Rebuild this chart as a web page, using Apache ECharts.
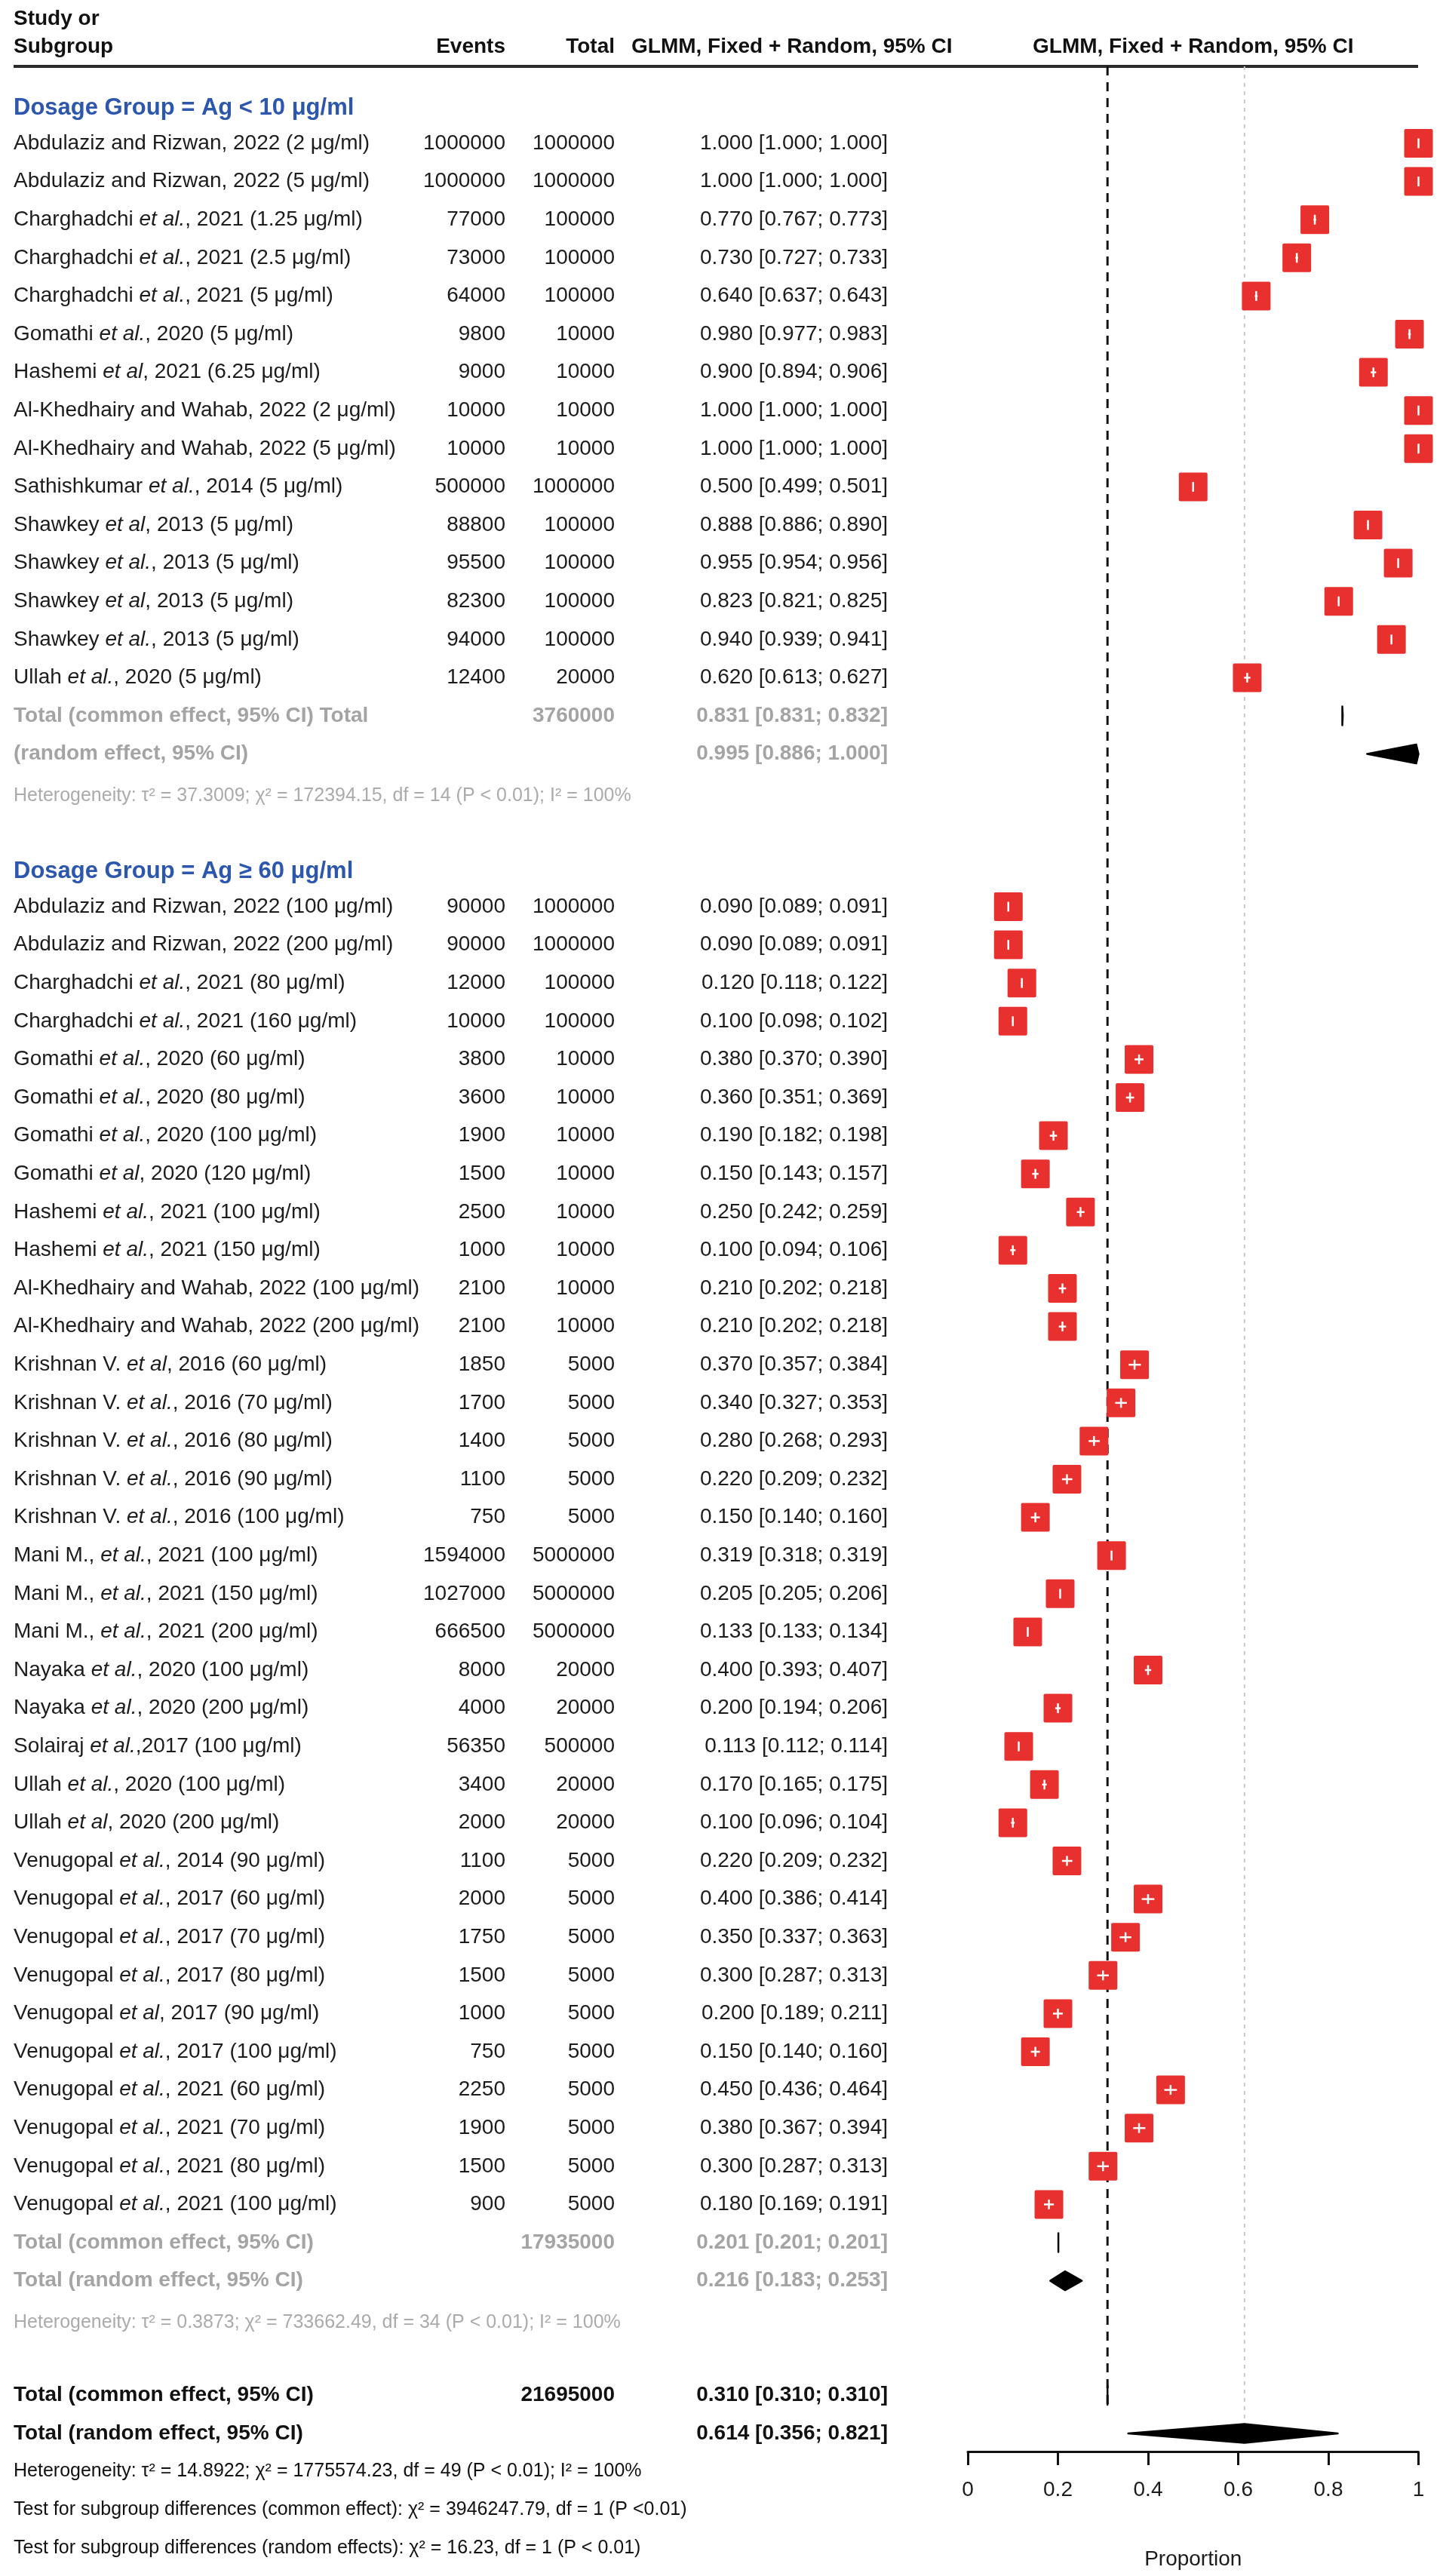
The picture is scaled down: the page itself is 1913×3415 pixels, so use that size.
<!DOCTYPE html>
<html><head><meta charset="utf-8">
<script src="https://cdn.jsdelivr.net/npm/echarts@6/dist/echarts.min.js"></script>
<style>html,body{margin:0;padding:0;background:#fff}#c{width:1913px;height:3415px}</style>
</head><body><div id="c"></div>
<script>
// ================= DATA =================
const g1Label = 'Dosage Group = Ag < 10 μg/ml';
const g1Studies = [
  'Abdulaziz and Rizwan, 2022 (2 μg/ml)',
  'Abdulaziz and Rizwan, 2022 (5 μg/ml)',
  'Charghadchi et al., 2021 (1.25 μg/ml)',
  'Charghadchi et al., 2021 (2.5 μg/ml)',
  'Charghadchi et al., 2021 (5 μg/ml)',
  'Gomathi et al., 2020 (5 μg/ml)',
  'Hashemi et al, 2021 (6.25 μg/ml)',
  'Al-Khedhairy and Wahab, 2022 (2 μg/ml)',
  'Al-Khedhairy and Wahab, 2022 (5 μg/ml)',
  'Sathishkumar et al., 2014 (5 μg/ml)',
  'Shawkey et al, 2013 (5 μg/ml)',
  'Shawkey et al., 2013 (5 μg/ml)',
  'Shawkey et al, 2013 (5 μg/ml)',
  'Shawkey et al., 2013 (5 μg/ml)',
  'Ullah et al., 2020 (5 μg/ml)'
];
const g1Events = [1000000, 1000000, 77000, 73000, 64000, 9800, 9000, 10000, 10000, 500000, 88800, 95500, 82300, 94000, 12400];
const g1Totals = [1000000, 1000000, 100000, 100000, 100000, 10000, 10000, 10000, 10000, 1000000, 100000, 100000, 100000, 100000, 20000];
const g1Est = [1.000, 1.000, 0.770, 0.730, 0.640, 0.980, 0.900, 1.000, 1.000, 0.500, 0.888, 0.955, 0.823, 0.940, 0.620];
const g1Lo  = [1.000, 1.000, 0.767, 0.727, 0.637, 0.977, 0.894, 1.000, 1.000, 0.499, 0.886, 0.954, 0.821, 0.939, 0.613];
const g1Hi  = [1.000, 1.000, 0.773, 0.733, 0.643, 0.983, 0.906, 1.000, 1.000, 0.501, 0.890, 0.956, 0.825, 0.941, 0.627];
const g1CommonLabel = 'Total (common effect, 95% CI) Total';
const g1RandomLabel = '(random effect, 95% CI)';
const g1CommonTotal = 3760000;
const g1Common = [0.831, 0.831, 0.832];
const g1Random = [0.995, 0.886, 1.000];
const g1Het = 'Heterogeneity: τ² = 37.3009; χ² = 172394.15, df = 14 (P < 0.01); I² = 100%';

const g2Label = 'Dosage Group = Ag ≥ 60 μg/ml';
const g2Studies = [
  'Abdulaziz and Rizwan, 2022 (100 μg/ml)',
  'Abdulaziz and Rizwan, 2022 (200 μg/ml)',
  'Charghadchi et al., 2021 (80 μg/ml)',
  'Charghadchi et al., 2021 (160 μg/ml)',
  'Gomathi et al., 2020 (60 μg/ml)',
  'Gomathi et al., 2020 (80 μg/ml)',
  'Gomathi et al., 2020 (100 μg/ml)',
  'Gomathi et al, 2020 (120 μg/ml)',
  'Hashemi et al., 2021 (100 μg/ml)',
  'Hashemi et al., 2021 (150 μg/ml)',
  'Al-Khedhairy and Wahab, 2022 (100 μg/ml)',
  'Al-Khedhairy and Wahab, 2022 (200 μg/ml)',
  'Krishnan V. et al, 2016 (60 μg/ml)',
  'Krishnan V. et al., 2016 (70 μg/ml)',
  'Krishnan V. et al., 2016 (80 μg/ml)',
  'Krishnan V. et al., 2016 (90 μg/ml)',
  'Krishnan V. et al., 2016 (100 μg/ml)',
  'Mani M., et al., 2021 (100 μg/ml)',
  'Mani M., et al., 2021 (150 μg/ml)',
  'Mani M., et al., 2021 (200 μg/ml)',
  'Nayaka et al., 2020 (100 μg/ml)',
  'Nayaka et al., 2020 (200 μg/ml)',
  'Solairaj et al.,2017 (100 μg/ml)',
  'Ullah et al., 2020 (100 μg/ml)',
  'Ullah et al, 2020 (200 μg/ml)',
  'Venugopal et al., 2014 (90 μg/ml)',
  'Venugopal et al., 2017 (60 μg/ml)',
  'Venugopal et al., 2017 (70 μg/ml)',
  'Venugopal et al., 2017 (80 μg/ml)',
  'Venugopal et al, 2017 (90 μg/ml)',
  'Venugopal et al., 2017 (100 μg/ml)',
  'Venugopal et al., 2021 (60 μg/ml)',
  'Venugopal et al., 2021 (70 μg/ml)',
  'Venugopal et al., 2021 (80 μg/ml)',
  'Venugopal et al., 2021 (100 μg/ml)'
];
const g2Events = [90000, 90000, 12000, 10000, 3800, 3600, 1900, 1500, 2500, 1000, 2100, 2100, 1850, 1700, 1400, 1100, 750, 1594000, 1027000, 666500, 8000, 4000, 56350, 3400, 2000, 1100, 2000, 1750, 1500, 1000, 750, 2250, 1900, 1500, 900];
const g2Totals = [1000000, 1000000, 100000, 100000, 10000, 10000, 10000, 10000, 10000, 10000, 10000, 10000, 5000, 5000, 5000, 5000, 5000, 5000000, 5000000, 5000000, 20000, 20000, 500000, 20000, 20000, 5000, 5000, 5000, 5000, 5000, 5000, 5000, 5000, 5000, 5000];
const g2Est = [0.090, 0.090, 0.120, 0.100, 0.380, 0.360, 0.190, 0.150, 0.250, 0.100, 0.210, 0.210, 0.370, 0.340, 0.280, 0.220, 0.150, 0.319, 0.205, 0.133, 0.400, 0.200, 0.113, 0.170, 0.100, 0.220, 0.400, 0.350, 0.300, 0.200, 0.150, 0.450, 0.380, 0.300, 0.180];
const g2Lo  = [0.089, 0.089, 0.118, 0.098, 0.370, 0.351, 0.182, 0.143, 0.242, 0.094, 0.202, 0.202, 0.357, 0.327, 0.268, 0.209, 0.140, 0.318, 0.205, 0.133, 0.393, 0.194, 0.112, 0.165, 0.096, 0.209, 0.386, 0.337, 0.287, 0.189, 0.140, 0.436, 0.367, 0.287, 0.169];
const g2Hi  = [0.091, 0.091, 0.122, 0.102, 0.390, 0.369, 0.198, 0.157, 0.259, 0.106, 0.218, 0.218, 0.384, 0.353, 0.293, 0.232, 0.160, 0.319, 0.206, 0.134, 0.407, 0.206, 0.114, 0.175, 0.104, 0.232, 0.414, 0.363, 0.313, 0.211, 0.160, 0.464, 0.394, 0.313, 0.191];
const g2CommonLabel = 'Total (common effect, 95% CI)';
const g2RandomLabel = 'Total (random effect, 95% CI)';
const g2CommonTotal = 17935000;
const g2Common = [0.201, 0.201, 0.201];
const g2Random = [0.216, 0.183, 0.253];
const g2Het = 'Heterogeneity: τ² = 0.3873; χ² = 733662.49, df = 34 (P < 0.01); I² = 100%';

const allCommonLabel = 'Total (common effect, 95% CI)';
const allRandomLabel = 'Total (random effect, 95% CI)';
const allCommonTotal = 21695000;
const allCommon = [0.310, 0.310, 0.310];
const allRandom = [0.614, 0.356, 0.821];
const footerLines = [
  'Heterogeneity: τ² = 14.8922; χ² = 1775574.23, df = 49 (P < 0.01); I² = 100%',
  'Test for subgroup differences (common effect): χ² = 3946247.79, df = 1 (P <0.01)',
  'Test for subgroup differences (random effects): χ² = 16.23, df = 1 (P < 0.01)'
];
const headerLeft = ['Study or', 'Subgroup'];
const headerCols = ['Events', 'Total', 'GLMM, Fixed + Random, 95% CI'];
const plotHeader = 'GLMM, Fixed + Random, 95% CI';
const axisName = 'Proportion';
const tickLabels = ['0', '0.2', '0.4', '0.6', '0.8', '1'];

// ================= LAYOUT =================
const W = 1913, H = 3415;
const ROW_Y0 = 139.4, PITCH = 50.6;
const RULE_Y = 88, AXIS_Y = 3250;
const PLOT_L = 1283, PLOT_R = 1880.5;
const COL = { study: 18, events: 670, total: 815, ciHdr: 837, ci: 1177, plotHdr: (PLOT_L + PLOT_R) / 2, ruleEnd: 1880 };
const FONT = '"Liberation Sans", Arial, Helvetica, sans-serif';
const RED = '#e8302f';
const SQ = 38;       // square size px
const DIA_H = 12.5;  // diamond half height px

const STYLES = {
  hdr:      { fontSize: 28, fontWeight: 'bold', fill: '#111' },
  row:      { fontSize: 28, fontWeight: 'normal', fill: '#1c1c1c' },
  grp:      { fontSize: 31, fontWeight: 'bold', fill: '#2d56ad' },
  sumGrey:  { fontSize: 28, fontWeight: 'bold', fill: '#a4a4a4' },
  hetGrey:  { fontSize: 25, fontWeight: 'normal', fill: '#ababab' },
  sumBlack: { fontSize: 28, fontWeight: 'bold', fill: '#111' },
  het:      { fontSize: 25, fontWeight: 'normal', fill: '#111' }
};

const fmt3 = v => v.toFixed(3);
const ciText = a => fmt3(a[0]) + ' [' + fmt3(a[1]) + '; ' + fmt3(a[2]) + ']';
const richName = s => s.replace(/et al\.?/g, m => '{i|' + m + '}');

const TEXTS = [];
const MARKS = [];
function addText(x, row, text, style, align) { TEXTS.push({ x, row, text, style, align: align || 'left' }); }

// header
addText(COL.study, (25 - ROW_Y0) / PITCH, headerLeft[0], 'hdr');
const HDR_ROW = (62 - ROW_Y0) / PITCH;
const RULE_ROW = (RULE_Y - ROW_Y0) / PITCH;
addText(COL.study, HDR_ROW, headerLeft[1], 'hdr');
addText(COL.events, HDR_ROW, headerCols[0], 'hdr', 'right');
addText(COL.total, HDR_ROW, headerCols[1], 'hdr', 'right');
addText(COL.ciHdr, HDR_ROW, headerCols[2], 'hdr');
addText(COL.plotHdr, HDR_ROW, plotHeader, 'hdr', 'center');

function addGroup(start, label, studies, ev, tot, est, lo, hi, cLabel, rLabel, cTot, com, ran, het) {
  addText(COL.study, start + 0.08, label, 'grp');
  studies.forEach((s, i) => {
    const r = start + 1 + i;
    addText(COL.study, r, richName(s), 'row');
    addText(COL.events, r, String(ev[i]), 'row', 'right');
    addText(COL.total, r, String(tot[i]), 'row', 'right');
    addText(COL.ci, r, ciText([est[i], lo[i], hi[i]]), 'row', 'right');
    MARKS.push({ kind: 'square', row: r, est: est[i], lo: lo[i], hi: hi[i] });
  });
  const rc = start + studies.length + 1, rr = rc + 1, rh = rc + 2;
  addText(COL.study, rc, cLabel, 'sumGrey');
  addText(COL.total, rc, String(cTot), 'sumGrey', 'right');
  addText(COL.ci, rc, ciText(com), 'sumGrey', 'right');
  addText(COL.study, rr, rLabel, 'sumGrey');
  addText(COL.ci, rr, ciText(ran), 'sumGrey', 'right');
  addText(COL.study, rh + 0.1, het, 'hetGrey');
  MARKS.push({ kind: 'diamond', row: rc, est: com[0], lo: com[1], hi: com[2] });
  MARKS.push({ kind: 'diamond', row: rr, est: ran[0], lo: ran[1], hi: ran[2] });
  return rh + 2;
}
let next = addGroup(0, g1Label, g1Studies, g1Events, g1Totals, g1Est, g1Lo, g1Hi, g1CommonLabel, g1RandomLabel, g1CommonTotal, g1Common, g1Random, g1Het);
next = addGroup(next, g2Label, g2Studies, g2Events, g2Totals, g2Est, g2Lo, g2Hi, g2CommonLabel, g2RandomLabel, g2CommonTotal, g2Common, g2Random, g2Het);
const rowAllC = next, rowAllR = next + 1;
addText(COL.study, rowAllC, allCommonLabel, 'sumBlack');
addText(COL.total, rowAllC, String(allCommonTotal), 'sumBlack', 'right');
addText(COL.ci, rowAllC, ciText(allCommon), 'sumBlack', 'right');
addText(COL.study, rowAllR, allRandomLabel, 'sumBlack');
addText(COL.ci, rowAllR, ciText(allRandom), 'sumBlack', 'right');
footerLines.forEach((t, i) => addText(COL.study, rowAllR + 1 + i, t, 'het'));
MARKS.push({ kind: 'diamond', row: rowAllC, est: allCommon[0], lo: allCommon[1], hi: allCommon[2] });
MARKS.push({ kind: 'diamond', row: rowAllR, est: allRandom[0], lo: allRandom[1], hi: allRandom[2] });

const VLINES = [
  { x: allCommon[0], from: RULE_ROW, to: rowAllC + 0.3, color: '#111', width: 3, dash: [12, 9] },
  { x: allRandom[0], from: RULE_ROW, to: rowAllR - DIA_H / PITCH, color: '#c9c9c9', width: 2, dash: [5, 6] }
];

// ================= CHART =================
const chart = echarts.init(document.getElementById('c'), null, { renderer: 'canvas', width: W, height: H });

function renderText(params, api) {
  const t = TEXTS[params.dataIndex];
  const p = api.coord([t.x, t.row]);
  const s = STYLES[t.style];
  const base = { fontFamily: FONT, fontSize: s.fontSize, fontWeight: s.fontWeight, fill: s.fill };
  return {
    type: 'text', x: p[0], y: p[1],
    style: Object.assign({}, base, {
      text: t.text, align: t.align, verticalAlign: 'middle',
      rich: { i: Object.assign({}, base, { fontStyle: 'italic' }) }
    })
  };
}
function renderRule(params, api) {
  const a = api.coord([COL.study, RULE_ROW]);
  const b = api.coord([COL.ruleEnd, RULE_ROW]);
  return { type: 'line', shape: { x1: a[0], y1: a[1], x2: b[0], y2: b[1] }, style: { stroke: '#2a2a2a', lineWidth: 4 } };
}
function renderVLine(params, api) {
  const v = VLINES[params.dataIndex];
  const a = api.coord([v.x, v.from]), b = api.coord([v.x, v.to]);
  return { type: 'line', shape: { x1: a[0], y1: a[1], x2: b[0], y2: b[1] }, style: { stroke: v.color, lineWidth: v.width, lineDash: v.dash } };
}
function renderMark(params, api) {
  const m = MARKS[params.dataIndex];
  const c = api.coord([m.est, m.row]);
  const l = api.coord([m.lo, m.row]);
  const h = api.coord([m.hi, m.row]);
  if (m.kind === 'square') {
    return {
      type: 'group', children: [
        { type: 'rect', shape: { x: c[0] - SQ / 2, y: c[1] - SQ / 2, width: SQ, height: SQ, r: 2 }, style: { fill: RED } },
        { type: 'line', shape: { x1: l[0], y1: c[1], x2: h[0], y2: c[1] }, style: { stroke: '#fff', lineWidth: 2.5 } },
        { type: 'line', shape: { x1: c[0], y1: c[1] - 6.5, x2: c[0], y2: c[1] + 6.5 }, style: { stroke: '#fff', lineWidth: 2.5 } }
      ]
    };
  }
  return {
    type: 'polygon',
    shape: { points: [[l[0], c[1]], [c[0], c[1] - DIA_H], [h[0], c[1]], [c[0], c[1] + DIA_H]] },
    style: { fill: '#000', stroke: '#000', lineWidth: 2.5, lineJoin: 'round' }
  };
}

chart.setOption({
  animation: false,
  backgroundColor: '#fff',
  grid: [
    { left: PLOT_L, right: W - PLOT_R, top: RULE_Y, bottom: H - AXIS_Y, containLabel: false },
    { left: 0, right: 0, top: 0, bottom: 0, containLabel: false }
  ],
  xAxis: [
    {
      gridIndex: 0, type: 'value', min: 0, max: 1, interval: 0.2,
      axisLine: { show: true, onZero: false, lineStyle: { color: '#111', width: 3 } },
      axisTick: { show: true, length: 18, lineStyle: { color: '#111', width: 3 } },
      axisLabel: { fontSize: 28, color: '#1c1c1c', fontFamily: FONT, margin: 37,
        formatter: (v) => tickLabels[Math.round(v / 0.2)] },
      splitLine: { show: false },
      name: axisName, nameLocation: 'middle', nameGap: 129,
      nameTextStyle: { fontSize: 28, color: '#1c1c1c', fontFamily: FONT }
    },
    { gridIndex: 1, type: 'value', min: 0, max: W, show: false }
  ],
  yAxis: [
    { gridIndex: 0, type: 'value', inverse: true, min: (RULE_Y - ROW_Y0) / PITCH, max: (AXIS_Y - ROW_Y0) / PITCH, show: false },
    { gridIndex: 1, type: 'value', inverse: true, min: -ROW_Y0 / PITCH, max: (H - ROW_Y0) / PITCH, show: false }
  ],
  series: [
    { type: 'custom', xAxisIndex: 1, yAxisIndex: 1, z: 1, silent: true, renderItem: renderRule, data: [[COL.study, RULE_ROW]] },
    { type: 'custom', xAxisIndex: 0, yAxisIndex: 0, z: 2, silent: true, clip: false, renderItem: renderVLine,
      data: VLINES.map(v => [v.x, v.from]) },
    { type: 'custom', xAxisIndex: 0, yAxisIndex: 0, z: 3, silent: true, clip: false, renderItem: renderMark,
      data: MARKS.map(m => [m.est, m.row]) },
    { type: 'custom', xAxisIndex: 1, yAxisIndex: 1, z: 4, silent: true, clip: false, renderItem: renderText,
      data: TEXTS.map(t => [t.x, t.row]) }
  ]
});
</script>
</body></html>
